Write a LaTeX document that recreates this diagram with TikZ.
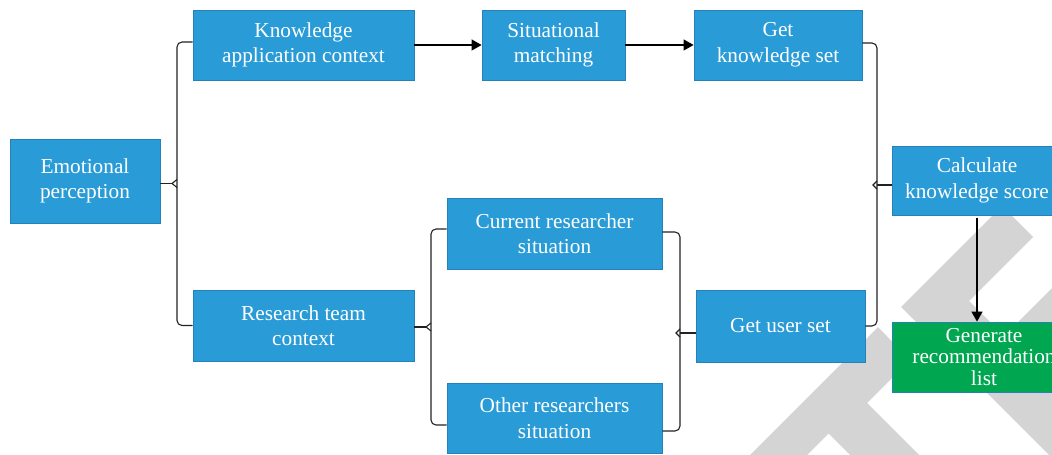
\documentclass[tikz,border=0pt]{standalone}
\usepackage{fontspec}
\setmainfont{Liberation Serif}
\usetikzlibrary{arrows.meta}

\definecolor{boxblue}{RGB}{41,155,215}
\definecolor{boxedge}{RGB}{38,128,186}
\definecolor{boxgreen}{RGB}{0,166,80}
\definecolor{forkgray}{RGB}{34,34,34}
\definecolor{markgray}{RGB}{212,212,212}

\begin{document}
\begin{tikzpicture}[x=1pt, y=1pt,
  box/.style={draw=boxedge, line width=0.8pt, fill=boxblue, text=white,
    align=center, inner sep=0pt, font=\fontsize{21.3}{25.5}\selectfont},
  flow/.style={-{Triangle[length=10pt,width=11pt]}, line width=1.1pt},
  fork/.style={draw=forkgray, line width=1.1pt, rounded corners=5pt},
  tip/.style={draw=forkgray, line width=1.1pt}]
  \useasboundingbox (0,0) rectangle (1052,455);
  \clip (0,0) rectangle (1052,455);

  % Grey stamp in the lower right corner
  \fill[markgray] (1002,249) -- (1033,218) -- (969,154) -- (1134,-11) -- (1097,-48) -- (901,148) -- cycle;
  \fill[markgray] (1080,195) -- (1120,155) -- (1030,65) -- (990,105) -- cycle;
  \fill[markgray] (878,128) -- (910,95) -- (867,52) -- (967,-48) -- (932.5,-82.5) -- (828.5,21.5) -- (762,-45) -- (705,-45) -- cycle;

  % Boxes
  \node[box, minimum width=150pt, minimum height=84pt] (emo) at (85,274) {Emotional\\perception};
  \node[box, minimum width=221pt, minimum height=70pt] (kac) at (303.5,410) {Knowledge\\application context};
  \node[box, minimum width=143pt, minimum height=70pt] (sit) at (553.5,410) {Situational\\matching};
  \node[box, minimum width=168pt, minimum height=70pt] (gks) at (778,410) {Get\\knowledge set};
  \node[box, minimum width=170pt, minimum height=69pt] (cks) at (977,274.5) {Calculate\\knowledge score};
  \node[box, fill=boxgreen, minimum width=184pt, minimum height=70pt,
    font=\fontsize{21.3}{21.5}\selectfont] (gen) at (984,98) {Generate\\recommendation\\list};
  \node[box, minimum width=221pt, minimum height=71pt] (rtc) at (303.5,129.5) {Research team\\context};
  \node[box, minimum width=215pt, minimum height=71pt] (crs) at (554.5,221.5) {Current researcher\\situation};
  \node[box, minimum width=215pt, minimum height=70pt] (ors) at (554.5,37) {Other researchers\\situation};
  \node[box, minimum width=169pt, minimum height=72pt] (gus) at (780.5,129) {Get user set};

  % Arrows
  \draw[flow] (kac) -- (sit);
  \draw[flow] (sit) -- (gks);
  \draw[flow] ([yshift=-3pt]cks.south) -- (cks.south |- gen.north);

  % Bracket: perception -> both contexts
  \coordinate (f1) at (177,271.5);
  \draw[fork] ([yshift=3pt]kac.west) -| (f1) |- (rtc.west);
  \draw[tip] ([yshift=4pt]f1) -- ([xshift=-5pt]f1) -- ([yshift=-4pt]f1);
  \draw[tip] (emo.east |- f1) -- ([xshift=-5pt]f1);

  % Bracket: team context -> both situations
  \coordinate (f2) at (431,128);
  \draw[fork] ([yshift=4.5pt]crs.west) -| (f2) |- ([yshift=-7pt]ors.west);
  \draw[tip] ([yshift=4pt]f2) -- ([xshift=-5pt]f2) -- ([yshift=-4pt]f2);
  \draw[tip] (rtc.east |- f2) -- ([xshift=-5pt]f2);

  % Bracket: both situations -> user set
  \coordinate (f3) at (680,122);
  \draw[fork] ([yshift=1.5pt]crs.east) -| (f3) |- ([yshift=-13pt]ors.east);
  \draw[tip] ([yshift=4pt]f3) -- ([xshift=-4pt]f3) -- ([yshift=-4pt]f3);
  \draw[tip] (f3) -- (gus.west |- f3);

  % Bracket: knowledge set and user set -> score
  \coordinate (f4) at (877,270);
  \draw[fork] ([yshift=2pt]gks.east) -| (f4) |- (gus.east);
  \draw[tip] ([yshift=4pt]f4) -- ([xshift=-4pt]f4) -- ([yshift=-4pt]f4);
  \draw[tip] (f4) -- (cks.west |- f4);
\end{tikzpicture}
\end{document}
